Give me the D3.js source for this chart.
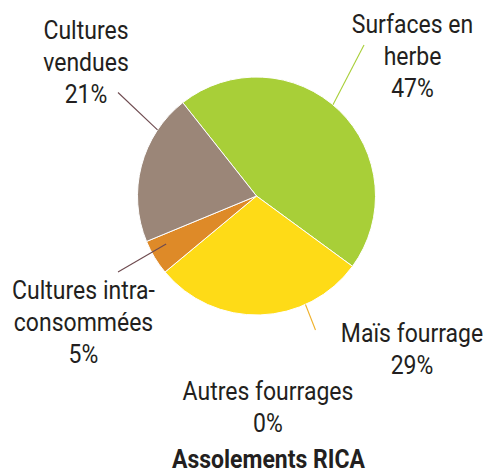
<!DOCTYPE html>
<html>
<head>
<meta charset="utf-8">
<script src="https://cdn.jsdelivr.net/npm/d3@7"></script>
<style>
  body { margin: 0; background: #fff; }
  text { font-family: Roboto, "Open Sans", sans-serif; fill: #231f20; }
</style>
</head>
<body>
<div id="wrapper"></div>
<script>
// slice data, clockwise from the green slice
const categories = ["Surfaces en herbe", "Maïs fourrage", "Autres fourrages", "Cultures intra-consommées", "Cultures vendues"]
const values = [45.7, 28.9, 0, 4.8, 20.6]
const pctLabels = ["47%", "29%", "0%", "5%", "21%"]
const labelLines = [["Surfaces en", "herbe"], ["Maïs fourrage"], ["Autres fourrages"], ["Cultures intra-", "consommées"], ["Cultures", "vendues"]]
const colors = ["#a8cf38", "#fedb17", "#f0a030", "#de8a28", "#9b8678"]
const title = "Assolements RICA"

const width = 486
const height = 475
const cx = 256.5, cy = 196, radius = 119

const svg = d3.select("#wrapper")
  .append("svg")
  .attr("width", width)
  .attr("height", height)

const pie = d3.pie().sort(null).value(d => d)
  .startAngle(-38.3 * Math.PI / 180)
  .endAngle((360 - 38.3) * Math.PI / 180)
const arcs = pie(values)
const arc = d3.arc().innerRadius(0).outerRadius(radius)

const g = svg.append("g").attr("transform", `translate(${cx},${cy})`)

g.selectAll(".slice")
  .data(arcs.filter(d => d.value > 0))
  .enter().append("path")
  .attr("class", "slice")
  .attr("d", arc)
  .attr("fill", d => colors[d.index])
  .attr("stroke", "#fff")
  .attr("stroke-width", 1)

// leader lines: slice index, radius fraction where it touches, angle, text end
const leaders = [
  {i: 0, r: 1.0, ang: 40, to: [364, 45], color: "#a8cf38"},
  {i: 1, r: 1.0, ang: 155.7, to: [315.5, 330], color: "#f0b12a"},
  {i: 3, r: 0.86, ang: 242, to: [118, 272], color: "#6e4a4f"},
  {i: 4, r: 1.0, ang: 303.7, to: [118, 92.5], color: "#6e4a4f"}
]
svg.selectAll(".leader")
  .data(leaders)
  .enter().append("line")
  .attr("class", "leader")
  .attr("x1", d => cx + radius * d.r * Math.sin(d.ang * Math.PI / 180))
  .attr("y1", d => cy - radius * d.r * Math.cos(d.ang * Math.PI / 180))
  .attr("x2", d => d.to[0])
  .attr("y2", d => d.to[1])
  .attr("stroke", d => d.color)
  .attr("stroke-width", 1.1)

// label blocks: centre x, first baseline
const labelPos = [[412.5, 33.5], [412, 342.5], [268, 400], [83.5, 299.5], [86, 39.5]]
const lineH = 31.8
const fontSize = 25
const squeeze = 0.92   // text is a condensed face in the original

labelPos.forEach((p, i) => {
  const lines = labelLines[i].concat([pctLabels[i]])
  const t = svg.append("g")
    .attr("transform", `translate(${p[0]},0) scale(${squeeze},1)`)
    .append("text")
    .attr("text-anchor", "middle")
    .style("font-size", fontSize + "px")
  lines.forEach((l, k) => {
    t.append("tspan")
      .attr("x", 0)
      .attr("y", p[1] + k * lineH)
      .text(l)
  })
})

svg.append("g")
  .attr("transform", `translate(268.5,0) scale(${squeeze},1)`)
  .append("text")
  .attr("x", 0)
  .attr("y", 468)
  .attr("text-anchor", "middle")
  .style("font-size", fontSize + "px")
  .style("font-weight", "bold")
  .text(title)
</script>
</body>
</html>
